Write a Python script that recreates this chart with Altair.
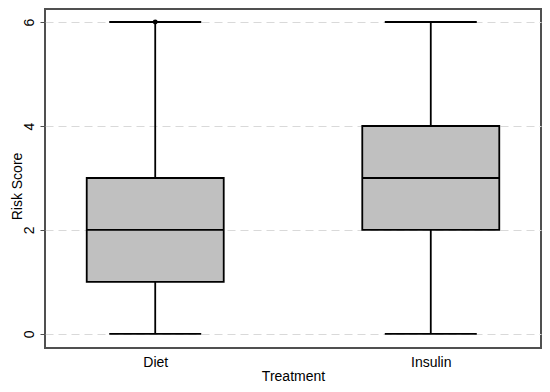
import altair as alt
import pandas as pd

treatments = ["Diet", "Insulin"]
lower_whisker = [0, 0]
q1 = [1, 2]
median = [2, 3]
q3 = [3, 4]
upper_whisker = [6, 6]
outlier_treatment = ["Diet"]
outlier_value = [6]
y_ticks = [0, 2, 4, 6]

stats = pd.DataFrame({
    "Treatment": treatments,
    "lo": lower_whisker,
    "q1": q1,
    "med": median,
    "q3": q3,
    "hi": upper_whisker,
})
outliers = pd.DataFrame({"Treatment": outlier_treatment, "value": outlier_value})

FONT = "Liberation Sans"

x_enc = alt.X(
    "Treatment:N",
    sort=treatments,
    scale=alt.Scale(type="point", padding=0.4),
    axis=alt.Axis(
        title="Treatment", labelAngle=0, ticks=False, domain=False,
        labelPadding=18, labelBaseline="alphabetic",
        titleY=32, titleBaseline="alphabetic",
    ),
)
y_scale = alt.Scale(domain=[-0.27, 6.25], nice=False, zero=False)
y_axis = alt.Axis(
    title="Risk Score", values=y_ticks, labelAngle=270, labelAlign="center",
    labelBaseline="alphabetic", labelPadding=7, tickSize=5, tickColor="#505050",
    domain=False, grid=True, gridDash=[8, 5], gridColor="#d9d9d9", gridWidth=1,
    titleAngle=270, titleX=-24, titleY=177, titleAlign="center",
    titleBaseline="alphabetic",
)

base = alt.Chart(stats)
SW = 1.8

whisker = base.mark_rule(color="black", strokeWidth=SW).encode(
    x=x_enc,
    y=alt.Y("lo:Q", scale=y_scale, axis=y_axis),
    y2="hi:Q",
)
box = base.mark_bar(size=137, color="#c0c0c0", stroke="black", strokeWidth=SW).encode(
    x=x_enc, y=alt.Y("q1:Q", scale=y_scale, axis=y_axis), y2="q3:Q"
)
med = base.mark_tick(size=137, thickness=SW, color="black", opacity=1).encode(
    x=x_enc, y=alt.Y("med:Q", scale=y_scale, axis=y_axis)
)
cap_lo = base.mark_tick(size=92, thickness=SW, color="black", opacity=1).encode(
    x=x_enc, y=alt.Y("lo:Q", scale=y_scale, axis=y_axis)
)
cap_hi = base.mark_tick(size=92, thickness=SW, color="black", opacity=1).encode(
    x=x_enc, y=alt.Y("hi:Q", scale=y_scale, axis=y_axis)
)
pts = alt.Chart(outliers).mark_point(filled=True, size=24, color="black", opacity=1).encode(
    x=x_enc, y=alt.Y("value:Q", scale=y_scale, axis=y_axis)
)

chart = alt.layer(whisker, box, med, cap_lo, cap_hi, pts).properties(
    width=496, height=339,
    autosize=alt.AutoSizeParams(type="none"),
    padding={"left": 37, "top": 1, "right": 1, "bottom": 36},
    background="white",
).configure_view(
    stroke="#505050", strokeWidth=2
).configure_axis(
    labelFont=FONT, titleFont=FONT, labelFontSize=14, titleFontSize=14,
    titleFontWeight="normal", labelColor="black", titleColor="black",
)

chart.save("out.html", embed_options={"renderer": "svg", "actions": False})
